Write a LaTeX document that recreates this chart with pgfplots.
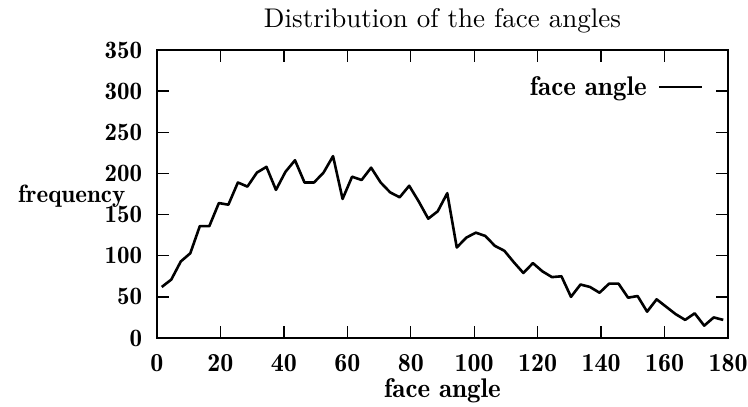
\documentclass[border=0pt]{standalone}
\usepackage{fontspec}
\newfontfamily\cmh{lmromandemi10-regular}[Extension=.otf]
\newfontfamily\cmt{lmroman10-regular}[Extension=.otf]
\usepackage{pgfplots}
\pgfplotsset{compat=1.18}
\begin{document}
\begin{tikzpicture}[x=1pt,y=1pt]
\path[use as bounding box] (0,0) rectangle (748,407);
\begin{axis}[
  at={(157pt,69pt)}, anchor=south west,
  scale only axis, width=571pt, height=288pt,
  xmin=0, xmax=180, ymin=0, ymax=350,
  xtick={0,20,...,180}, ytick={0,50,...,350},
  tick align=inside, major tick length=12pt,
  line width=1.5pt,
  every tick/.style={line width=1.4pt, black},
  /pgf/number format/assume math mode=true,
  tick label style={font=\fontsize{26}{30}\cmh},
  xticklabel style={yshift=-12pt},
  yticklabel style={inner sep=0pt, xshift=-14pt, font=\fontsize{25}{29}\cmh},
  title={Distribution of the face angles},
  title style={font=\fontsize{27}{32}\cmt, yshift=7pt},
  xlabel={face angle}, ylabel={frequency},
  label style={font=\fontsize{27}{32}\cmh},
  every axis y label/.style={at={(axis description cs:0,0.469)}, anchor=base east, inner sep=0pt, xshift=-31pt, font=\fontsize{25}{29}\cmh},
  legend style={draw=none, fill=none, at={(rel axis cs:1,1)}, anchor=north east,
    xshift=-21pt, yshift=-22pt, font=\fontsize{27}{32}\cmh, column sep=9pt},
  legend plot pos=right,
  legend image code/.code={\draw[#1] (0pt,0pt) -- (43pt,0pt);},
]
\addplot[black, line width=2.6pt, line join=round] coordinates {
(1.5,62) (4.5,71) (7.5,93) (10.5,103) (13.5,136) (16.5,136) (19.5,164) (22.5,162) (25.5,189) (28.5,184)
(31.5,201) (34.5,208) (37.5,180) (40.5,202) (43.5,216) (46.5,189) (49.5,189) (52.5,201) (55.5,221) (58.5,169)
(61.5,196) (64.5,192) (67.5,207) (70.5,189) (73.5,177) (76.5,171) (79.5,185) (82.5,166) (85.5,145) (88.5,154)
(91.5,176) (94.5,110) (97.5,122) (100.5,128) (103.5,124) (106.5,112) (109.5,106) (112.5,92) (115.5,79) (118.5,91)
(121.5,81) (124.5,74) (127.5,75) (130.5,50) (133.5,65) (136.5,62) (139.5,55) (142.5,66) (145.5,66) (148.5,49)
(151.5,51) (154.5,32) (157.5,47) (160.5,38) (163.5,29) (166.5,22) (169.5,30) (172.5,15) (175.5,25) (178.5,22)
};
\addlegendentry{face angle}
\end{axis}
\end{tikzpicture}
\end{document}
